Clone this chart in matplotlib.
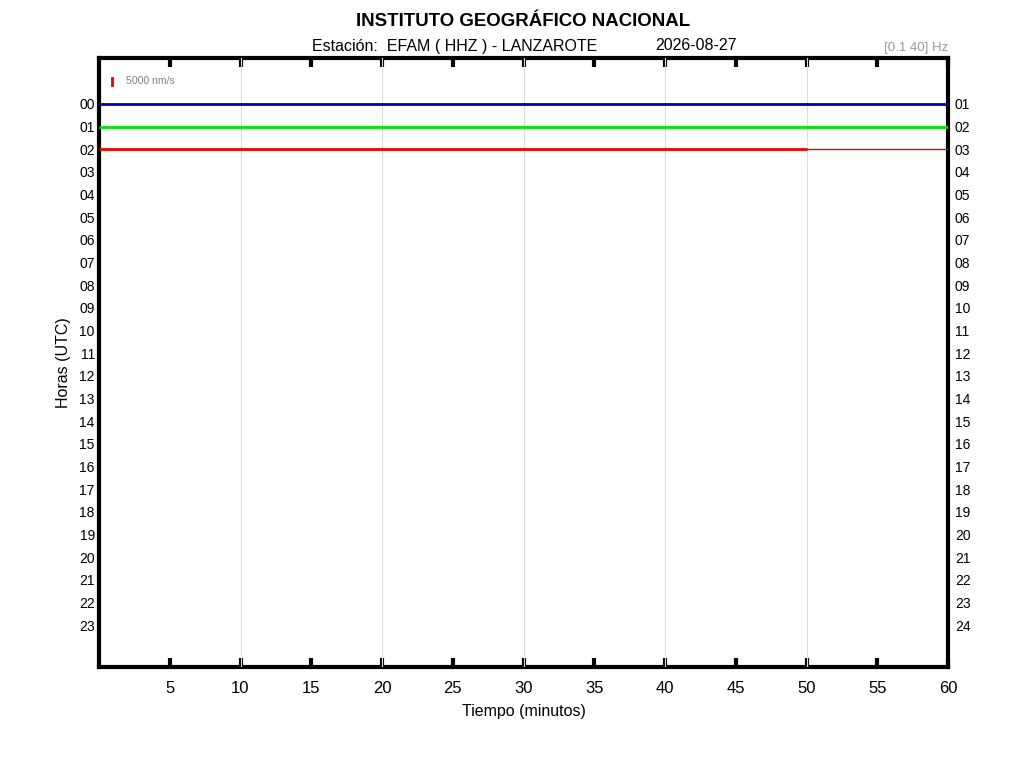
import matplotlib
matplotlib.use("Agg")
import matplotlib.pyplot as plt

# ---- data ----
hours_left = [f"{h:02d}" for h in range(24)]
hours_right = [f"{h:02d}" for h in range(1, 25)]
x_ticks = [5, 10, 15, 20, 25, 30, 35, 40, 45, 50, 55, 60]
grid_minutes = [10, 20, 30, 40, 50]
trace_rows = [0, 1, 2]
trace_end_minute = [60, 60, 50]
trace_colors = ["#0000b4", "#00e600", "#ee0000"]
trace_tail_color = "#c01010"
scale_label = "5000 nm/s"
filter_label = "[0.1 40] Hz"

plt.rcParams['font.family'] = ['Liberation Sans', 'DejaVu Sans']

fig = plt.figure(figsize=(10.24, 7.68), dpi=100)
ax = fig.add_axes([99/1024, 1-667/768, (948-99)/1024, (667-58)/768])

YLIM = (24.85, -2.03)
ax.set_xlim(0, 60)
ax.set_ylim(*YLIM)

for m in grid_minutes:
    ax.axvline(m, color="#dddddd", lw=0.8, zorder=2.6)

for row, end, col in zip(trace_rows, trace_end_minute, trace_colors):
    ax.plot([0, end], [row, row], color=col, lw=2.0, zorder=3, solid_capstyle="butt")
    if end < 60:
        ax.plot([end, 60], [row, row], color=trace_tail_color, lw=1.0, zorder=3)

# scale bar
ax.plot([0.95, 0.95], [-1.15, -0.85], color="#ee0000", lw=2, zorder=3)
ax.text(1.9, -1.0, scale_label, fontsize=7.6, color="#808080", va="center", ha="left")

ax.set_xticks(x_ticks)
ax.set_xticklabels([str(t) for t in x_ticks], fontsize=12)
ax.set_yticks(range(24))
ax.set_yticklabels(hours_left, fontsize=10)
ax.tick_params(axis='x', direction='in', length=6.5, width=3, top=True, pad=10)
ax.tick_params(axis='y', length=0, pad=3)
for s in ax.spines.values():
    s.set_linewidth(3)

ax2 = ax.twinx()
ax2.set_ylim(*YLIM)
ax2.set_yticks(range(24))
ax2.set_yticklabels(hours_right, fontsize=10)
ax2.tick_params(axis='y', length=0, pad=5)
for s in ax2.spines.values():
    s.set_visible(False)

ax.set_xlabel("Tiempo (minutos)", fontsize=11.5, labelpad=6)
ax.set_ylabel("Horas (UTC)", fontsize=11.5, labelpad=6)

fig.text(523/1024, 1-22/768, "INSTITUTO GEOGRÁFICO NACIONAL", fontsize=13.4, fontweight="bold",
         ha="center", va="center")
fig.text(312/1024, 1-46/768, "Estación:  EFAM ( HHZ ) - LANZAROTE", fontsize=11.5,
         ha="left", va="center")
fig.text(655/1024, 1-46/768, "2026-08-27", fontsize=11.5, ha="left", va="center")
fig.text(948/1024, 1-48/768, filter_label, fontsize=9.5, color="#999999", ha="right", va="center")

fig.savefig("out.png", dpi=100)
